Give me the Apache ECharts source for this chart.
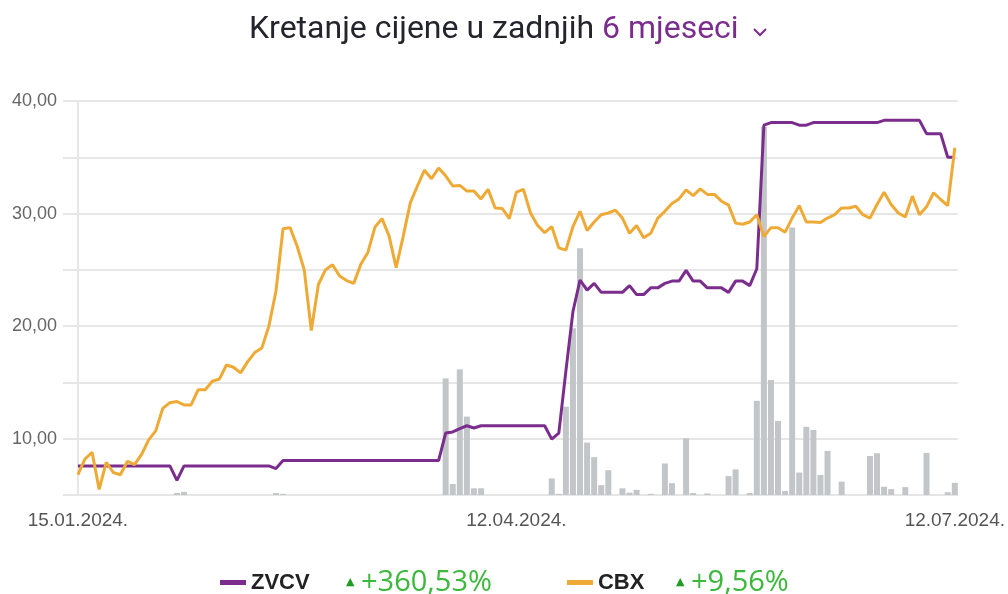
<!DOCTYPE html>
<html>
<head>
<meta charset="utf-8">
<script src="https://cdn.jsdelivr.net/npm/echarts@6/dist/echarts.min.js"></script>
<style>
  html, body { margin: 0; padding: 0; background: #fff; }
  #chart { width: 1008px; height: 594px; }
</style>
</head>
<body>
<div id="chart"></div>
<script>
// trading days shown on the x axis, only three of them get a label
const xTickIndex = [0, 62, 124];
const xTickText = ["15.01.2024.", "12.04.2024.", "12.07.2024."];

const seriesNames = ["ZVCV", "CBX"];
const seriesChange = ["+360,53%", "+9,56%"];

// ZVCV closing price (EUR)
const zvcv = [
  7.58, 7.58, 7.58, 7.58, 7.58, 7.58, 7.58, 7.58, 7.58, 7.58,
  7.58, 7.58, 7.58, 7.58, 6.3, 7.58, 7.58, 7.58, 7.58, 7.58,
  7.58, 7.58, 7.58, 7.58, 7.58, 7.58, 7.58, 7.58, 7.35, 8.06,
  8.06, 8.06, 8.06, 8.06, 8.06, 8.06, 8.06, 8.06, 8.06, 8.06,
  8.06, 8.06, 8.06, 8.06, 8.06, 8.06, 8.06, 8.06, 8.06, 8.06,
  8.06, 8.06, 10.5, 10.6, 10.9, 11.15, 10.95, 11.15, 11.15, 11.15,
  11.15, 11.15, 11.15, 11.15, 11.15, 11.15, 11.15, 9.96, 10.5, 16.0,
  21.3, 24.1, 23.2, 23.8, 23.0, 23.0, 23.0, 23.0, 23.6, 22.8,
  22.8, 23.4, 23.4, 23.8, 24.0, 24.0, 24.95, 24.0, 24.0, 23.4,
  23.4, 23.4, 23.0, 24.0, 24.0, 23.6, 25.1, 37.85, 38.08, 38.08,
  38.08, 38.08, 37.85, 37.85, 38.08, 38.08, 38.08, 38.08, 38.08, 38.08,
  38.08, 38.08, 38.08, 38.08, 38.28, 38.28, 38.28, 38.28, 38.28, 38.28,
  37.1, 37.1, 37.1, 35.0, 35.0
];

// CBX index, scaled to the same axis
const cbx = [
  6.8, 8.2, 8.8, 5.5, 7.9, 7.0, 6.8, 8.0, 7.7, 8.6,
  9.9, 10.7, 12.7, 13.2, 13.3, 13.0, 13.0, 14.35, 14.35, 15.1,
  15.3, 16.55, 16.35, 15.85, 16.85, 17.65, 18.05, 20.0, 23.1, 28.65,
  28.75, 27.1, 25.0, 19.6, 23.7, 25.0, 25.45, 24.45, 24.05, 23.8,
  25.5, 26.55, 28.8, 29.55, 28.0, 25.2, 28.0, 30.95, 32.45, 33.85,
  33.1, 34.05, 33.35, 32.45, 32.5, 32.0, 32.0, 31.3, 32.15, 30.5,
  30.45, 29.55, 31.9, 32.15, 30.05, 28.95, 28.3, 28.85, 26.95, 26.75,
  28.85, 30.2, 28.5, 29.25, 29.9, 30.05, 30.3, 29.6, 28.25, 28.95,
  27.85, 28.25, 29.6, 30.2, 30.9, 31.3, 32.1, 31.6, 32.2, 31.7,
  31.7, 31.1, 30.75, 29.15, 29.05, 29.25, 29.9, 27.95, 28.75, 28.75,
  28.35, 29.6, 30.7, 29.25, 29.25, 29.2, 29.6, 29.9, 30.5, 30.5,
  30.65, 29.9, 29.6, 30.8, 31.9, 30.8, 30.05, 29.7, 31.55, 29.9,
  30.6, 31.85, 31.25, 30.7, 35.85
];

// ZVCV traded volume (relative units)
const volume = [
  0, 0, 0, 0, 0, 0, 0, 0, 0, 0,
  0, 0, 0, 0, 0.5, 0.8, 0, 0, 0, 0,
  0, 0, 0, 0, 0, 0, 0, 0, 0.5, 0.3,
  0, 0, 0, 0, 0, 0, 0, 0, 0, 0,
  0, 0, 0, 0, 0, 0, 0, 0, 0, 0,
  0, 0, 29.6, 2.8, 31.9, 19.9, 1.7, 1.7, 0, 0,
  0, 0, 0, 0, 0, 0, 0, 4.2, 0.3, 22.4,
  42.3, 62.6, 13.3, 9.6, 2.5, 6.3, 0, 1.7, 0.6, 1.3,
  0, 0.3, 0, 8.0, 3.0, 0, 14.4, 0.5, 0, 0.4,
  0, 0, 4.8, 6.5, 0, 0.5, 23.9, 93.4, 29.2, 18.8,
  1.0, 67.9, 5.7, 17.3, 16.5, 5.1, 11.2, 0, 3.4, 0,
  0, 0, 9.9, 10.6, 2.1, 1.5, 0, 2.0, 0, 0,
  10.7, 0, 0, 0.7, 3.1
];

const purple = "#7b2d8e";
const orange = "#efaa36";
const gridGray = "#e6e6e6";
const titleFont = "Roboto, 'Noto Sans', sans-serif";

const chart = echarts.init(document.getElementById("chart"));

const option = {
  animation: false,
  title: {
    left: 244,
    top: 9,
    text: "{a|Kretanje cijene u zadnjih }{b|6 mjeseci}",
    textStyle: {
      fontWeight: "normal",
      rich: {
        a: { fontFamily: titleFont, fontSize: 32, fontWeight: "normal", color: "#24242c" },
        b: { fontFamily: titleFont, fontSize: 32, fontWeight: "normal", color: purple },
      },
    },
  },
  graphic: [
    {
      type: "polyline",
      shape: { points: [[754, 29], [760, 35], [766, 29]] },
      style: { stroke: purple, lineWidth: 2, fill: null },
    },
  ],
  legend: {
    left: 220,
    top: 568,
    padding: 0,
    icon: "rect",
    itemWidth: 26,
    itemHeight: 5,
    itemGap: 75,
    data: seriesNames,
    formatter: (name) => {
      const i = seriesNames.indexOf(name);
      return "{n" + i + "|" + name + "}{t|▲}{p" + i + "|" + seriesChange[i] + "}";
    },
    textStyle: {
      rich: {
        n0: { fontFamily: "'Liberation Sans', sans-serif", fontWeight: "bold", fontSize: 22, color: "#222", width: 95 },
        n1: { fontFamily: "'Liberation Sans', sans-serif", fontWeight: "bold", fontSize: 22, color: "#222", width: 78 },
        t: { fontFamily: "'DejaVu Sans', sans-serif", fontSize: 11, color: "#1f9c24", width: 15 },
        p0: { fontFamily: "'Open Sans', sans-serif", fontSize: 29, color: "#3cb83c", width: 137 },
        p1: { fontFamily: "'Open Sans', sans-serif", fontSize: 29, color: "#3cb83c", width: 96 },
      },
    },
  },
  grid: { left: 73, right: 49, top: 101, bottom: 99 },
  xAxis: {
    type: "value",
    min: -0.7,
    max: 124.4,
    splitLine: { show: false },
    axisTick: { show: false },
    axisLine: { show: true, lineStyle: { color: gridGray, width: 2 } },
    axisLabel: {
      customValues: xTickIndex,
      formatter: (v) => xTickText[xTickIndex.indexOf(v)],
      color: "#555",
      fontFamily: "'Liberation Sans', Arial, sans-serif",
      fontSize: 19,
      margin: 16,
    },
  },
  yAxis: [
    {
      type: "value",
      min: 5,
      max: 40,
      interval: 5,
      axisLine: { show: true, lineStyle: { color: gridGray, width: 2 } },
      axisTick: { show: true, length: 15, lineStyle: { color: gridGray, width: 2 } },
      splitLine: { lineStyle: { color: gridGray, width: 2 } },
      axisLabel: {
        margin: 16,
        color: "#666",
        fontFamily: "'Liberation Sans', Arial, sans-serif",
        fontSize: 18,
        formatter: (v) => (v % 10 === 0 ? v.toFixed(2).replace(".", ",") : ""),
      },
    },
    {
      type: "value",
      min: 0,
      max: 100,
      show: false,
      splitLine: { show: false },
    },
  ],
  series: [
    {
      name: "volume",
      type: "bar",
      yAxisIndex: 1,
      barWidth: 6,
      itemStyle: { color: "#c3c6c9" },
      data: volume.map((v, i) => [i, v]),
      z: 1,
    },
    {
      name: seriesNames[0],
      type: "line",
      showSymbol: false,
      lineStyle: { color: purple, width: 3 },
      itemStyle: { color: purple },
      data: zvcv.map((v, i) => [i, v]),
      z: 3,
    },
    {
      name: seriesNames[1],
      type: "line",
      showSymbol: false,
      lineStyle: { color: orange, width: 3 },
      itemStyle: { color: orange },
      data: cbx.map((v, i) => [i, v]),
      z: 4,
    },
  ],
};

chart.setOption(option);
</script>
</body>
</html>
